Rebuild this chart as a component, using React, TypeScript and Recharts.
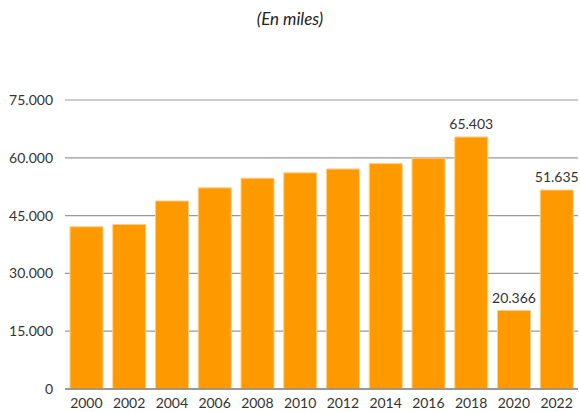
import { BarChart, Bar, XAxis, YAxis, CartesianGrid, LabelList } from "recharts";

const years = ["2000", "2002", "2004", "2006", "2008", "2010", "2012", "2014", "2016", "2018", "2020", "2022"];
const values = [42100, 42700, 48800, 52200, 54700, 56100, 57100, 58500, 59900, 65403, 20366, 51635];
const labelled = ["2018", "2020", "2022"];
const yTicks = [0, 15000, 30000, 45000, 60000, 75000];

const data = years.map((year, i) => ({ year, value: values[i] }));

const fmt = (v: number) => v.toLocaleString("de-DE");
const font = "Lato, 'Open Sans', sans-serif";

export default function App() {
  return (
    <div style={{ position: "absolute", left: 0, top: 0, width: 580, height: 412, background: "#fff", fontFamily: font }}>
      <div
        style={{
          position: "absolute",
          top: 8,
          left: 0,
          width: 580,
          textAlign: "center",
          fontStyle: "italic",
          fontSize: 17,
          color: "#222",
        }}
      >
        (En miles)
      </div>
      <BarChart width={580} height={412} data={data} margin={{ top: 100, right: 2, bottom: 0, left: 0 }} barSize={33}>
        <CartesianGrid vertical={false} stroke="#999" strokeWidth={1.2} />
        <XAxis
          dataKey="year"
          height={23}
          tickLine={false}
          tickSize={0}
          tickMargin={9}
          axisLine={{ stroke: "#888", strokeWidth: 1.5 }}
          tick={{ fill: "#333", fontSize: 14, fontFamily: font }}
          interval={0}
        />
        <YAxis
          width={65}
          domain={[0, 75000]}
          ticks={yTicks}
          tickFormatter={fmt}
          axisLine={false}
          tickLine={false}
          tickSize={0}
          tickMargin={12}
          tick={{ fill: "#333", fontSize: 14, fontFamily: font }}
        />
        <Bar dataKey="value" fill="#ff9900" stroke="#ffcf85" strokeWidth={1} isAnimationActive={false}>
          <LabelList
            dataKey="value"
            position="top"
            content={(props: any) => {
              const { x, y, width, value, index } = props;
              if (!labelled.includes(years[index])) return null;
              return (
                <text x={x + width / 2} y={y - 8} textAnchor="middle" fill="#333" fontSize={14} fontFamily={font}>
                  {fmt(value)}
                </text>
              );
            }}
          />
        </Bar>
      </BarChart>
    </div>
  );
}
